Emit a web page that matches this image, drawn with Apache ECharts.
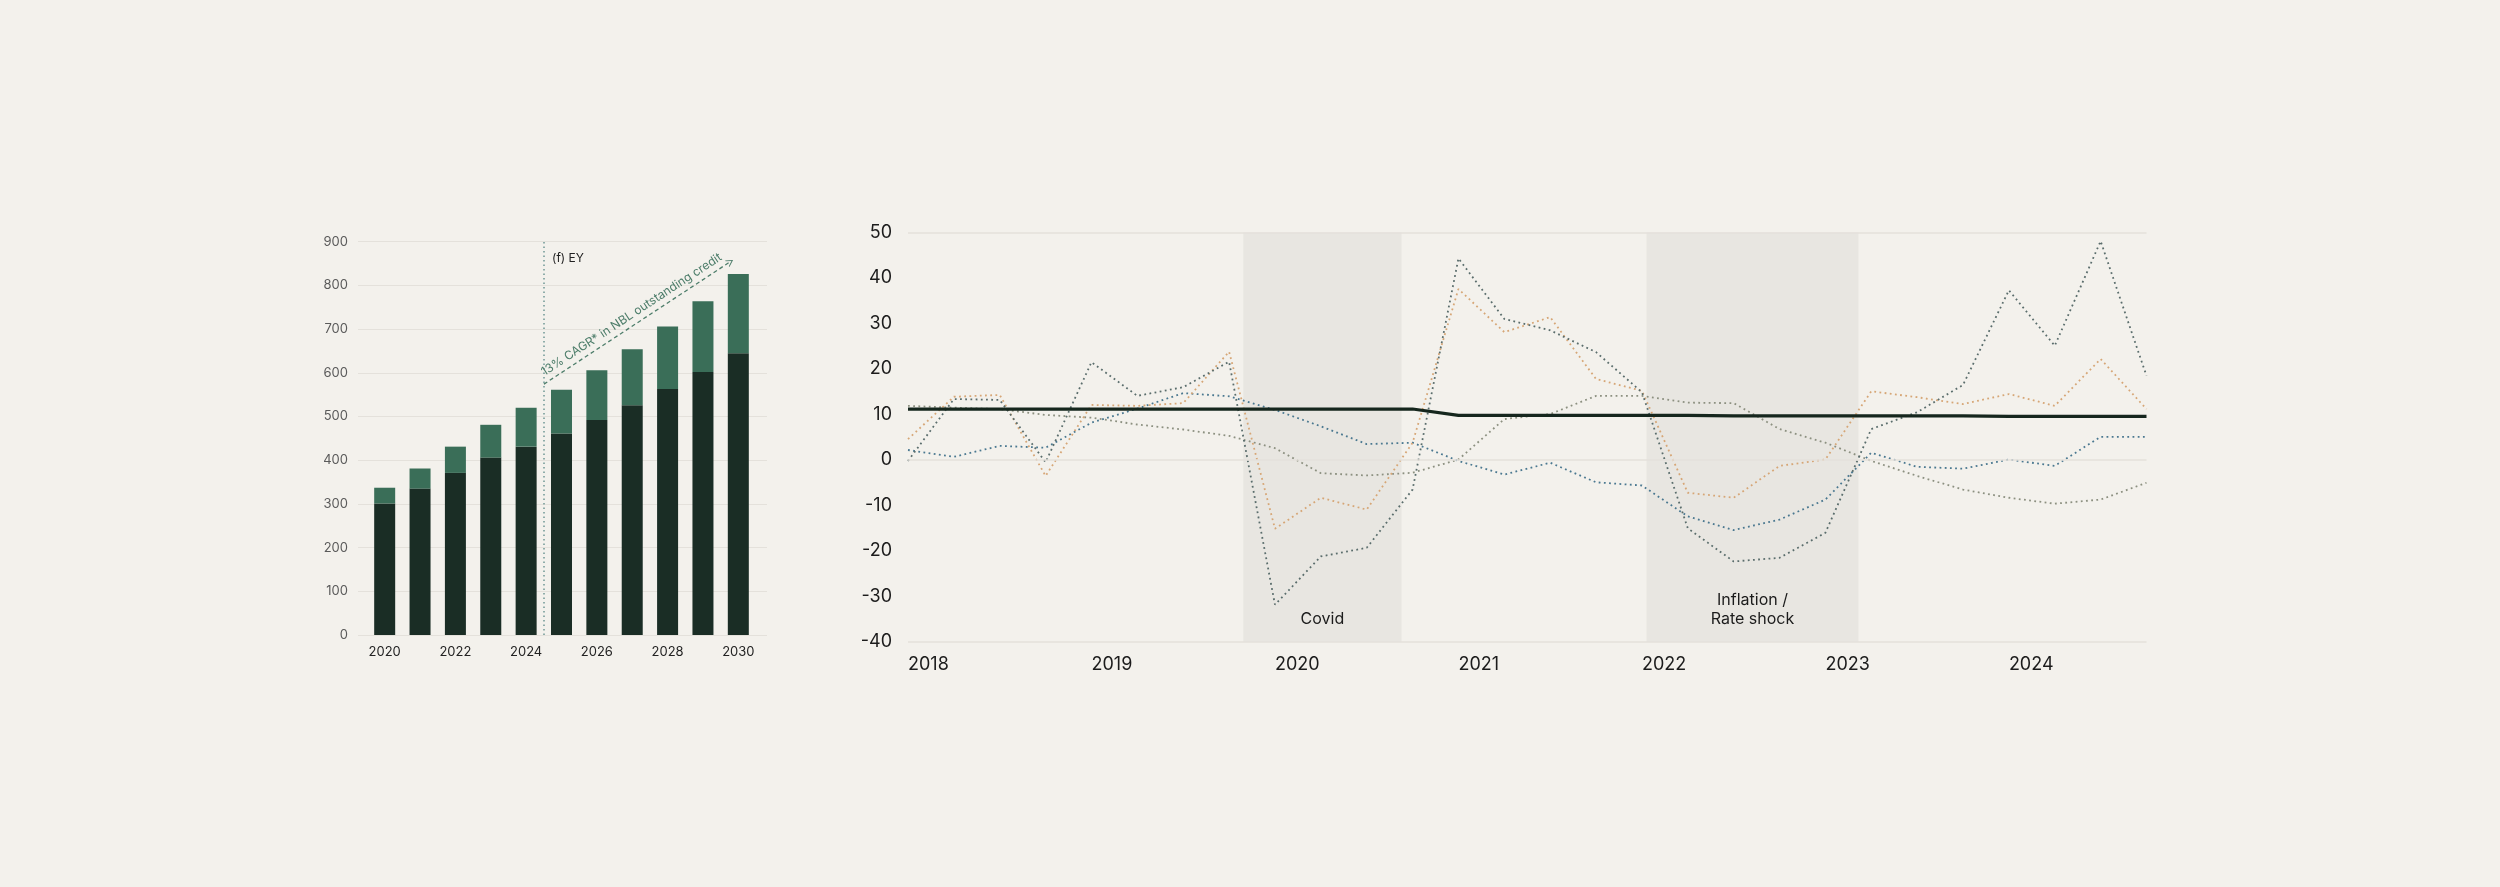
<!DOCTYPE html>
<html>
<head>
<meta charset="utf-8">
<script src="https://cdn.jsdelivr.net/npm/echarts@6/dist/echarts.min.js"></script>
<style>
  html, body { margin: 0; padding: 0; background: #f3f1ec; }
  #chart { width: 2500px; height: 887px; }
</style>
</head>
<body>
<div id="chart"></div>
<script>
// left chart: NBL outstanding credit
var barYears = ['2020', '2021', '2022', '2023', '2024', '2025', '2026', '2027', '2028', '2029', '2030'];
var baseValues = [301, 335, 371, 406, 431, 461, 492, 526, 563, 602, 645];
var topValues = [36, 46, 60, 75, 89, 100, 114, 128, 143, 162, 181];

// right chart: quarterly growth
var quarters = [
  '2018 Q1', '2018 Q2', '2018 Q3', '2018 Q4',
  '2019 Q1', '2019 Q2', '2019 Q3', '2019 Q4',
  '2020 Q1', '2020 Q2', '2020 Q3', '2020 Q4',
  '2021 Q1', '2021 Q2', '2021 Q3', '2021 Q4',
  '2022 Q1', '2022 Q2', '2022 Q3', '2022 Q4',
  '2023 Q1', '2023 Q2', '2023 Q3', '2023 Q4',
  '2024 Q1', '2024 Q2', '2024 Q3', '2024 Q4'
];
var seriesA = [-0.2, 13.4, 13.2, -0.5, 21.5, 14.1, 16.0, 21.6, -31.8, -21.2, -19.3, -6.5, 44.3, 31.0, 28.5, 23.7, 14.9, -15.0, -22.3, -21.5, -16.0, 6.8, 10.5, 16.5, 37.3, 25.1, 48.1, 18.5];
var seriesB = [4.6, 13.9, 14.3, -3.5, 12.1, 11.9, 12.5, 23.8, -15.1, -8.3, -10.9, 3.8, 37.6, 28.1, 31.4, 17.8, 15.2, -7.2, -8.3, -1.3, 0.1, 15.1, 13.8, 12.3, 14.5, 11.9, 22.2, 11.2];
var seriesC = [2.2, 0.7, 3.1, 2.7, 8.2, 11.3, 14.7, 14.0, 11.0, 7.4, 3.5, 3.8, -0.2, -3.2, -0.6, -4.9, -5.6, -12.4, -15.4, -13.1, -8.7, 1.6, -1.5, -1.9, 0.1, -1.3, 5.1, 5.1];
var seriesD = [11.9, 11.5, 11.2, 9.9, 9.3, 7.8, 6.7, 5.3, 2.6, -2.9, -3.4, -2.8, 0.1, 9.0, 10.1, 14.1, 14.1, 12.6, 12.5, 6.8, 3.8, -0.2, -3.5, -6.5, -8.3, -9.6, -8.7, -5.0];
var trend = [11.2, 11.2, 11.2, 11.2, 11.2, 11.2, 11.2, 11.2, 11.2, 11.2, 11.2, 11.2, 9.8, 9.8, 9.8, 9.8, 9.8, 9.8, 9.7, 9.7, 9.7, 9.7, 9.7, 9.7, 9.6, 9.6, 9.6, 9.6];
var yearTickIdx = [0, 4, 8, 12, 16, 20, 24];
var bandNames = ['Covid', 'Inflation /\nRate shock'];
var bandRanges = [[7.31, 10.76], [16.10, 20.72]];

var mychart = echarts.init(document.getElementById('chart'));

function pairs(xs, ys) {
  return ys.map(function (v, i) { return [xs[i], v]; });
}
var qIdx = quarters.map(function (q, i) { return i; });

var font = 'Inter, "Noto Sans", sans-serif';

function dotted(name, data, color) {
  return {
    name: name,
    type: 'line',
    xAxisIndex: 1,
    yAxisIndex: 1,
    data: pairs(qIdx, data),
    symbol: 'none',
    lineStyle: { color: color, width: 1.8, type: [1.8, 3.4] },
    z: 3
  };
}

var option = {
  backgroundColor: '#f3f1ec',
  animation: false,
  textStyle: { fontFamily: font },
  graphic: [{
    type: 'text',
    left: 552,
    top: 252,
    style: { text: '(f) EY', fontSize: 12, fill: '#222', fontFamily: font }
  }],
  grid: [
    // outer frame of the bar chart (gridlines, y labels, annotations)
    { left: 358, right: 1733, top: 241.7, bottom: 252 },
    // quarterly chart
    { left: 908, right: 353.5, top: 232.5, bottom: 245 },
    // bars
    { left: 367, right: 1744, top: 241.7, bottom: 252 }
  ],
  xAxis: [{
    type: 'value',
    gridIndex: 0,
    min: 2019.25,
    max: 2030.8,
    show: false
  }, {
    type: 'value',
    gridIndex: 1,
    min: 0,
    max: 27,
    splitLine: { show: false },
    axisLine: { show: false },
    axisTick: { show: false },
    axisLabel: {
      customValues: yearTickIdx,
      formatter: function (v) { return quarters[v].slice(0, 4); },
      align: 'left',
      color: '#1c1c1c',
      fontSize: 18,
      margin: 14,
      fontFamily: font
    }
  }, {
    type: 'category',
    gridIndex: 2,
    data: barYears,
    boundaryGap: true,
    axisLine: { show: false },
    axisTick: { show: false },
    splitLine: { show: false },
    axisLabel: { interval: 1, color: '#222', fontSize: 13, margin: 11, fontFamily: font }
  }],
  yAxis: [{
    type: 'value',
    gridIndex: 0,
    min: 0,
    max: 900,
    interval: 100,
    axisLine: { show: false },
    axisTick: { show: false },
    axisLabel: { color: '#5a5a5a', fontSize: 13, margin: 10, fontFamily: font },
    splitLine: { lineStyle: { color: '#e4e1db', width: 1 } }
  }, {
    type: 'value',
    gridIndex: 1,
    min: -40,
    max: 50,
    interval: 10,
    axisLine: { show: false },
    axisTick: { show: false },
    axisLabel: { color: '#1c1c1c', fontSize: 18, margin: 16, fontFamily: font },
    splitLine: { show: false }
  }, {
    type: 'value',
    gridIndex: 2,
    min: 0,
    max: 900,
    show: false,
    splitLine: { show: false }
  }],
  series: [{
    name: 'Base',
    type: 'bar',
    stack: 'nbl',
    xAxisIndex: 2,
    yAxisIndex: 2,
    barWidth: 21,
    data: baseValues,
    itemStyle: { color: '#1a2d25' },
    z: 2
  }, {
    name: 'Growth',
    type: 'bar',
    stack: 'nbl',
    xAxisIndex: 2,
    yAxisIndex: 2,
    barWidth: 21,
    data: topValues,
    itemStyle: { color: '#3a6e58' },
    z: 2
  }, {
    name: 'Notes',
    type: 'line',
    xAxisIndex: 0,
    yAxisIndex: 0,
    data: [],
    z: 3,
    markLine: {
      silent: true,
      symbol: ['none', 'none'],
      data: [{
        xAxis: 2024.5,
        label: { show: false },
        lineStyle: { color: '#6f9794', width: 1.5, type: [1.5, 3] }
      }, [{
        coord: [2024.5, 574],
        symbol: 'none',
        lineStyle: { color: '#4d7d6a', width: 1.3, type: [4, 3] },
        label: {
          show: true,
          position: 'insideMiddleTop',
          distance: 4,
          formatter: '13% CAGR* in NBL outstanding credit',
          color: '#4d7d6a',
          fontSize: 12,
          fontFamily: font
        }
      }, {
        coord: [2029.76, 854],
        symbol: 'path://M0,10 L5,0 L10,10 L8.6,10 L5,2.8 L1.4,10 Z',
        symbolSize: [8, 7]
      }]]
    }
  }, {
    name: 'Frame',
    type: 'line',
    xAxisIndex: 1,
    yAxisIndex: 1,
    data: [],
    markArea: {
      silent: true,
      itemStyle: { color: '#e8e6e1' },
      label: {
        show: true,
        position: 'insideBottom',
        distance: 13,
        color: '#1c1c1c',
        fontSize: 16,
        lineHeight: 19,
        fontFamily: font
      },
      data: bandRanges.map(function (r, k) {
        return [{ xAxis: r[0], name: bandNames[k] }, { xAxis: r[1] }];
      })
    },
    markLine: {
      silent: true,
      symbol: ['none', 'none'],
      label: { show: false },
      lineStyle: { color: '#e4e1db', width: 1.5, type: 'solid' },
      data: [{ yAxis: 50 }, { yAxis: 0 }, { yAxis: -40 }]
    },
    z: 1
  },
  dotted('Series D', seriesD, '#8c9080'),
  dotted('Series C', seriesC, '#4a7890'),
  dotted('Series B', seriesB, '#d6a676'),
  dotted('Series A', seriesA, '#5a6d6c'),
  {
    name: 'Trend',
    type: 'line',
    xAxisIndex: 1,
    yAxisIndex: 1,
    data: pairs(qIdx, trend),
    symbol: 'none',
    lineStyle: { color: '#15261d', width: 3.2 },
    z: 4
  }]
};

mychart.setOption(option);
</script>
</body>
</html>
